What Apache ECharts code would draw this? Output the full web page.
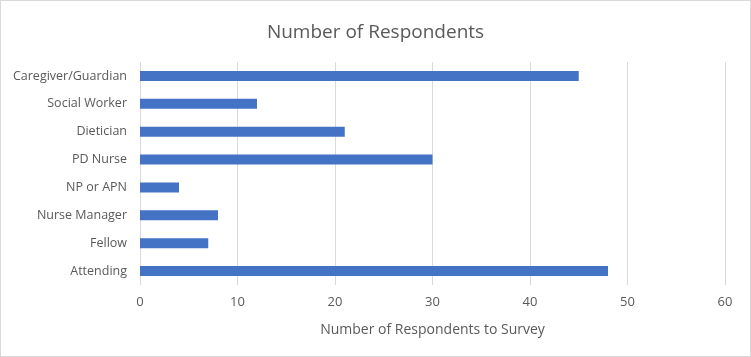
<!DOCTYPE html>
<html>
<head>
<meta charset="utf-8">
<script src="https://cdn.jsdelivr.net/npm/echarts@6/dist/echarts.min.js"></script>
<style>
  html, body { margin: 0; padding: 0; background: #fff; }
  #chart { width: 751px; height: 357px; box-sizing: border-box; border: 1px solid #d9d9d9; }
</style>
</head>
<body>
<div id="chart"></div>
<script>
const categories = ['Attending', 'Fellow', 'Nurse Manager', 'NP or APN', 'PD Nurse', 'Dietician', 'Social Worker', 'Caregiver/Guardian'];
const respondents = [48, 7, 8, 4, 30, 21, 12, 45];
const xTicks = { min: 0, max: 60, interval: 10 };

const chart = echarts.init(document.getElementById('chart'));
const font = '"Open Sans", "Liberation Sans", sans-serif';

chart.setOption({
  animation: false,
  title: {
    text: 'Number of Respondents',
    left: 'center',
    top: 17,
    textStyle: { color: '#595959', fontSize: 19, fontWeight: 'normal', fontFamily: font }
  },
  grid: { left: 139, right: 25, top: 61, bottom: 71 },
  xAxis: {
    type: 'value',
    min: xTicks.min,
    max: xTicks.max,
    interval: xTicks.interval,
    name: 'Number of Respondents to Survey',
    nameLocation: 'middle',
    nameGap: 38,
    nameTextStyle: { color: '#595959', fontSize: 14, fontFamily: font },
    axisLine: { show: false },
    axisTick: { show: false },
    axisLabel: { color: '#595959', fontSize: 13, margin: 11, fontFamily: font },
    splitLine: { show: true, lineStyle: { color: '#d9d9d9', width: 1 } }
  },
  yAxis: {
    type: 'category',
    data: categories,
    axisLine: { show: false },
    axisTick: { show: false },
    axisLabel: { color: '#595959', fontSize: 12.5, margin: 13, fontFamily: font }
  },
  series: [{
    type: 'bar',
    data: respondents,
    barWidth: 10,
    itemStyle: { color: '#4472c4' }
  }]
});
</script>
</body>
</html>
